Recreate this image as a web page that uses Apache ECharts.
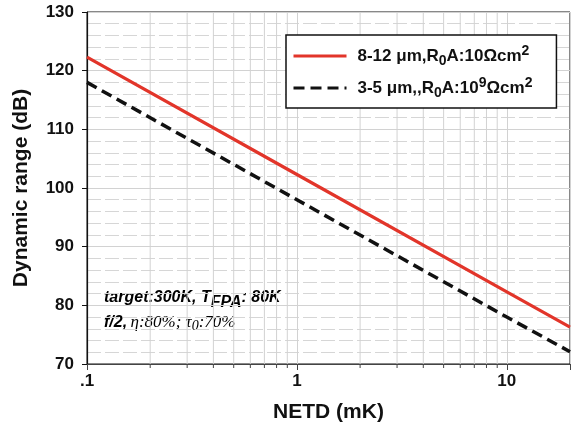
<!DOCTYPE html>
<html>
<head>
<meta charset="utf-8">
<script src="https://cdn.jsdelivr.net/npm/echarts@6/dist/echarts.min.js"></script>
<style>
html,body{margin:0;padding:0;background:#fff;}
#main{width:573px;height:428px;}
</style>
</head>
<body>
<div id="main"></div>
<script>
// NETD (mK) sample points, lines are straight on the log axis
var netd = [0.1, 1, 10, 20];
var lwirDR = [122.3, 102.3, 82.3, 76.3];   // 8-12 um
var mwirDR = [118.0, 98.0, 78.0, 72.1];    // 3-5 um
var yTicks = [70, 80, 90, 100, 110, 120, 130];
// log minor grid positions
var minorX = [0.2, 0.3, 0.4, 0.5, 0.6, 0.7, 0.8, 0.9, 2, 3, 4, 5, 6, 7, 8, 9];

var font = '"Liberation Sans", Arial, sans-serif';

function pairs(xs, ys){
	var out = [];
	for (var i = 0; i < xs.length; i++) out.push([xs[i], ys[i]]);
	return out;
}

var myChart = echarts.init(document.getElementById('main'));

var legendRich = {
	p: {width: 6},
	b: {fontFamily: font, fontWeight: 'bold', fontSize: 17, color: '#111'},
	sub: {fontFamily: font, fontWeight: 'bold', fontSize: 14, color: '#111', padding: [10, 0, 0, 0]},
	sup: {fontFamily: font, fontWeight: 'bold', fontSize: 14, color: '#111', padding: [0, 0, 10, 0]}
};
var legendText = {
	lwir: '{p|}{b|8-12 μm,R}{sub|0}{b|A:10Ωcm}{sup|2}',
	mwir: '{p|}{b|3-5 μm,,R}{sub|0}{b|A:10}{sup|9}{b|Ωcm}{sup|2}'
};

var option = {
	animation: false,
	backgroundColor: '#fff',
	grid: {left: 87, top: 12, right: 0, bottom: 64, show: true, borderColor: '#111', borderWidth: 1},
	legend: {
		data: ['lwir', 'mwir'],
		orient: 'vertical',
		left: 286, top: 35,
		padding: [9, 24, 8, 6],
		itemGap: 8,
		itemWidth: 53,
		itemHeight: 14,
		backgroundColor: '#fff',
		borderColor: '#111',
		borderWidth: 1.5,
		itemStyle: {opacity: 0},
		lineStyle: {width: 3},
		formatter: function(name){ return legendText[name]; },
		textStyle: {rich: legendRich}
	},
	xAxis: {
		type: 'log',
		logBase: 10,
		min: 0.1,
		max: 20,
		name: 'NETD (mK)',
		nameLocation: 'middle',
		nameGap: 38,
		nameTextStyle: {fontFamily: font, fontWeight: 'bold', fontSize: 21, color: '#111'},
		axisLine: {lineStyle: {color: '#444', width: 1}},
		axisTick: {length: 6, lineStyle: {color: '#444'}},
		axisLabel: {
			fontFamily: font, fontWeight: 'bold', fontSize: 17, color: '#111', margin: 9,
			formatter: function(v){
				var l = Math.log10(v);
				if (Math.abs(l - Math.round(l)) > 1e-6) return '';
				if (Math.round(l) === -1) return '.1';
				return String(Math.round(v));
			}
		},
		splitLine: {show: true, lineStyle: {color: '#d2d2d2', width: 1}}
	},
	yAxis: {
		type: 'value',
		min: yTicks[0],
		max: yTicks[yTicks.length - 1],
		interval: 10,
		name: 'Dynamic range (dB)',
		nameLocation: 'middle',
		nameGap: 55,
		nameTextStyle: {fontFamily: font, fontWeight: 'bold', fontSize: 21, color: '#111'},
		axisLine: {show: true, lineStyle: {color: '#111', width: 1.2}},
		axisTick: {show: true, length: 5, lineStyle: {color: '#111'}},
		axisLabel: {fontFamily: font, fontWeight: 'bold', fontSize: 17, color: '#111', margin: 13},
		splitLine: {show: true, lineStyle: {color: '#d2d2d2', width: 1}},
		minorTick: {show: false, splitNumber: 5},
		minorSplitLine: {show: true, lineStyle: {color: '#d6d6d6', width: 1, type: [14, 4]}}
	},
	graphic: [
		{
			type: 'text', left: 104, top: 290,
			style: {
				text: '{a|target:300K, T}{s|FPA}{a|: 80K}',
				rich: {
					a: {fontFamily: font, fontWeight: 'bold', fontStyle: 'italic', fontSize: 16, color: '#111'},
					s: {fontFamily: font, fontWeight: 'bold', fontStyle: 'italic', fontSize: 16, color: '#111', padding: [9, 0, 0, 0]}
				}
			}
		},
		{
			type: 'text', left: 104, top: 314,
			style: {
				text: '{a|f/2,} {g|η:80%; τ}{s|0}{g|:70%}',
				rich: {
					a: {fontFamily: font, fontWeight: 'bold', fontStyle: 'italic', fontSize: 16, color: '#111'},
					g: {fontFamily: '"Liberation Serif", "DejaVu Serif", serif', fontStyle: 'italic', fontSize: 17, color: '#333'},
					s: {fontFamily: '"Liberation Serif", "DejaVu Serif", serif', fontStyle: 'italic', fontSize: 14, color: '#333', padding: [8, 0, 0, 0]}
				}
			}
		}
	],
	series: [
		{
			name: 'grid',
			type: 'custom',
			silent: true,
			clip: false,
			z: 1,
			data: minorX.map(function(x){ return [x, yTicks[0]]; }),
			renderItem: function(params, api){
				var x = api.value(0);
				var top = api.coord([x, yTicks[yTicks.length - 1]]);
				var bot = api.coord([x, yTicks[0]]);
				return {
					type: 'group',
					children: [
						{type: 'line', shape: {x1: top[0], y1: top[1], x2: bot[0], y2: bot[1]}, style: {stroke: '#d2d2d2', lineWidth: 1}},
						{type: 'line', shape: {x1: bot[0], y1: bot[1], x2: bot[0], y2: bot[1] + 4}, style: {stroke: '#444', lineWidth: 1}}
					]
				};
			}
		},
		{
			name: 'lwir',
			type: 'line',
			z: 4,
			symbol: 'none',
			data: pairs(netd, lwirDR),
			lineStyle: {color: '#e2352a', width: 3.2},
			itemStyle: {color: '#e2352a'}
		},
		{
			name: 'mwir',
			type: 'line',
			z: 3,
			symbol: 'none',
			data: pairs(netd, mwirDR),
			lineStyle: {color: '#111', width: 3.5, type: [11, 6]},
			itemStyle: {color: '#111'}
		}
	]
};

myChart.setOption(option);
</script>
</body>
</html>
